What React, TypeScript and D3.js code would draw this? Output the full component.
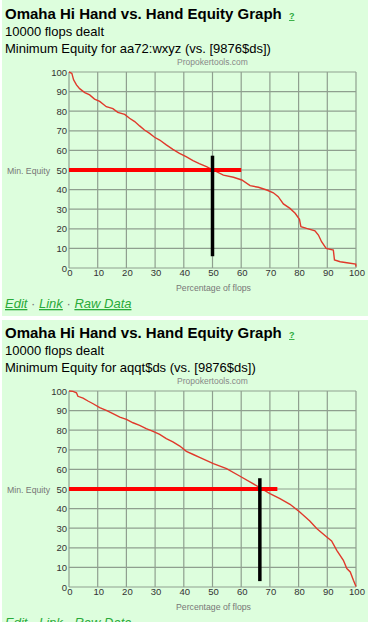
import { useEffect, useRef } from 'react';
import * as d3 from 'd3';

const title = 'Omaha Hi Hand vs. Hand Equity Graph';
const flopsLine = '10000 flops dealt';
const hands = ['aa72:wxyz', 'aqqt$ds'];
const villain = '[9876$ds]';
const ticks = [0, 10, 20, 30, 40, 50, 60, 70, 80, 90, 100];

// percentage of flops -> min. equity
const curveA: [number, number][] = [
    [0, 100], [1, 99.3], [1.6, 96], [2.6, 93.4], [3.7, 91.5], [5.5, 89.5], [7.2, 88.3],
    [8.9, 86.2], [10.7, 85], [13, 82.3], [15.3, 81.3], [17, 79.4], [19.4, 78.4],
    [21.1, 76.4], [22.9, 74.7], [24.6, 72.5], [26.3, 70.4], [28.1, 68.7], [29.8, 66.7],
    [31.6, 65.3], [33.9, 62.8], [36.2, 60.5], [38.5, 58.5], [40.8, 56.8], [43.2, 54.8],
    [45.4, 53.3], [47.9, 51.7], [50.2, 50], [53.8, 47.4], [57.3, 46.3], [60.2, 44.9],
    [63.1, 42], [66, 41.2], [68.9, 39.8], [71.2, 38.4], [72.9, 36.4], [74.7, 32.7],
    [77, 30.4], [78.8, 27.9], [80.3, 24.8], [80.8, 21.1], [82.8, 20.2], [85.7, 19],
    [86.9, 16.8], [88, 13.4], [89.6, 10], [92.1, 9.2], [92.5, 4.1], [94.5, 3.2],
    [96.8, 2.7], [99.9, 2], [100, 0.7]
];
const curveB: [number, number][] = [
    [0, 100], [1.4, 99.8], [2.6, 99.1], [3.1, 97.3], [4.9, 96.4], [6.6, 94.9], [8.4, 93.5],
    [10.7, 91.5], [13, 90.1], [15.3, 88.4], [17.7, 86.7], [20, 85.5], [22.3, 83.8],
    [24.6, 82.5], [26.9, 80.8], [29.3, 79.4], [31.6, 77.9], [33.9, 75.7], [36.2, 74],
    [38.6, 71.9], [40.9, 69.2], [43.3, 67.6], [45.3, 66.3], [50.3, 62.9], [54.9, 60.4],
    [59.6, 56.5], [66.5, 50.7], [70, 47.6], [73.5, 45.1], [77, 42.2], [80.4, 38.3],
    [83.9, 33.7], [86.3, 29.8], [89.8, 25.5], [91.5, 23.5], [93.3, 18.7], [95.6, 13.6],
    [96.8, 9.4], [98, 7.7], [99.1, 3.4], [100, 0.3]
];
const curves = [curveA, curveB];
// min. equity marker: horizontal from 0 to hEnd at level; vertical at vx from vLow to vHigh
const levels = [50, 50];
const hEnds = [60, 72.6];
const vXs = [50, 66.5];
const vLows = [6, 3];
const vHighs = [57.3, 55.5];

const FONT = '"Liberation Sans", Arial, sans-serif';
const BG = '#ddfedd';
const LINK = '#2aaa3a';

const App = () => {
    const svgRef = useRef<SVGSVGElement>(null);

    useEffect(() => {
        if (!svgRef.current) return;
        const svg = d3.select(svgRef.current);
        svg.selectAll('*').remove();

        const plot = { left: 69, top: 72, width: 287, height: 196 };
        const x = d3.scaleLinear().domain([0, 100]).range([0, plot.width]);
        const y = d3.scaleLinear().domain([0, 100]).range([plot.height, 0]);
        const line = d3.line<[number, number]>().x(d => x(d[0])).y(d => y(d[1]));

        svg.append('rect').attr('width', 368).attr('height', 622).attr('fill', '#fff');

        hands.forEach((hand, i) => {
            const top = i === 0 ? 0 : 320;
            const p = svg.append('g').attr('transform', `translate(0,${top - (i === 0 ? 0 : 1)})`);
            p.append('rect')
                .attr('x', 2).attr('y', i === 0 ? 0 : 1)
                .attr('width', 366).attr('height', i === 0 ? 316 : 310)
                .attr('fill', BG);

            // header
            p.append('text')
                .attr('x', 5).attr('y', 19)
                .style('font', `bold 15px ${FONT}`)
                .attr('fill', '#000')
                .text(title);
            p.append('text')
                .attr('x', 289).attr('y', 19)
                .style('font', `bold 9px ${FONT}`)
                .attr('fill', LINK)
                .attr('text-decoration', 'underline')
                .text('?');
            p.append('text')
                .attr('x', 5).attr('y', 36)
                .style('font', `13px ${FONT}`)
                .text(flopsLine);
            p.append('text')
                .attr('x', 5).attr('y', 53)
                .style('font', `13px ${FONT}`)
                .text(`Minimum Equity for ${hand} (vs. ${villain})`);
            p.append('text')
                .attr('x', plot.left + plot.width / 2).attr('y', 65)
                .attr('text-anchor', 'middle')
                .style('font', `8.5px ${FONT}`)
                .attr('fill', '#888')
                .text('Propokertools.com');

            const g = p.append('g').attr('transform', `translate(${plot.left},${plot.top})`);

            // grid
            g.append('g')
                .selectAll('line.v')
                .data(ticks)
                .join('line')
                .attr('x1', d => x(d)).attr('x2', d => x(d))
                .attr('y1', 0).attr('y2', plot.height)
                .attr('stroke', '#8f9f8f').attr('stroke-width', 1.2);
            g.append('g')
                .selectAll('line.h')
                .data(ticks)
                .join('line')
                .attr('x1', 0).attr('x2', plot.width)
                .attr('y1', d => y(d)).attr('y2', d => y(d))
                .attr('stroke', '#8f9f8f').attr('stroke-width', 1.2);

            // tick labels
            g.append('g')
                .selectAll('text')
                .data(ticks)
                .join('text')
                .attr('x', -2).attr('y', d => y(d) + 3.5)
                .attr('text-anchor', 'end')
                .style('font', `9.5px ${FONT}`)
                .attr('fill', '#333')
                .text(d => d);
            g.append('g')
                .selectAll('text')
                .data(ticks)
                .join('text')
                .attr('x', d => x(d) + 1).attr('y', plot.height + 8)
                .attr('text-anchor', 'middle')
                .style('font', `9.5px ${FONT}`)
                .attr('fill', '#333')
                .text(d => d);

            g.append('text')
                .attr('x', -19).attr('y', y(50) + 3.5)
                .attr('text-anchor', 'end')
                .style('font', `8.7px ${FONT}`)
                .attr('fill', '#777')
                .text('Min. Equity');
            g.append('text')
                .attr('x', plot.width / 2 + 1).attr('y', plot.height + 22.5)
                .attr('text-anchor', 'middle')
                .style('font', `8.7px ${FONT}`)
                .attr('fill', '#777')
                .text('Percentage of flops');

            // equity curve
            g.append('path')
                .datum(curves[i])
                .attr('d', line)
                .attr('fill', 'none')
                .attr('stroke', '#e0392b')
                .attr('stroke-width', 1.4);

            // markers
            g.append('line')
                .attr('x1', x(0)).attr('x2', x(hEnds[i]))
                .attr('y1', y(levels[i])).attr('y2', y(levels[i]))
                .attr('stroke', '#ff0000').attr('stroke-width', 4);
            g.append('line')
                .attr('x1', x(vXs[i])).attr('x2', x(vXs[i]))
                .attr('y1', y(vLows[i])).attr('y2', y(vHighs[i]))
                .attr('stroke', '#000').attr('stroke-width', 3.5);

            // links
            const links = p.append('text')
                .attr('x', 5).attr('y', 308)
                .style('font', `italic 13px ${FONT}`);
            ['Edit', 'Link', 'Raw Data'].forEach((label, k) => {
                if (k > 0) links.append('tspan').attr('fill', '#777').style('font-style', 'normal').text(' · ');
                links.append('tspan').attr('fill', LINK).attr('text-decoration', 'underline').text(label);
            });
        });
    }, []);

    return (
        <svg ref={svgRef} width={368} height={622}
            style={{ position: 'absolute', left: 0, top: 0, display: 'block' }} />
    );
};

export default App;
